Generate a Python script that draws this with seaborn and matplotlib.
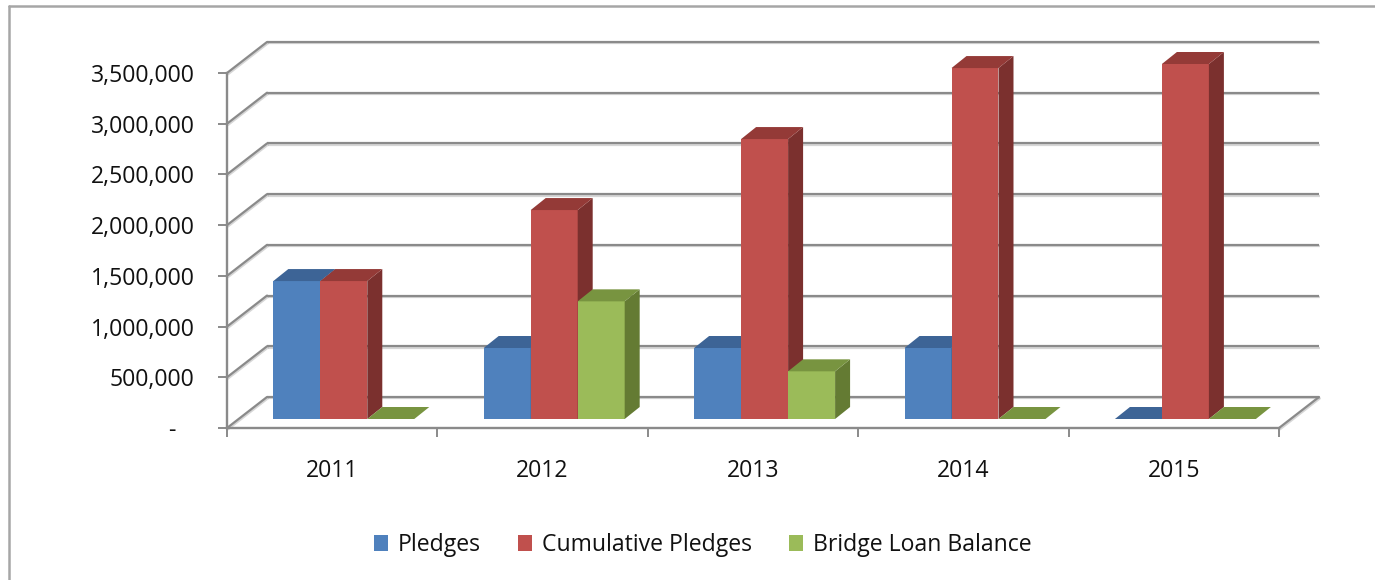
import numpy as np
import pandas as pd
import matplotlib
matplotlib.use("Agg")
import matplotlib.pyplot as plt
import seaborn as sns
from matplotlib.patches import Polygon, Patch
from matplotlib.lines import Line2D
from matplotlib.colors import to_hex
import matplotlib.patheffects as pe

# ---------------- data ----------------
years = ["2011", "2012", "2013", "2014", "2015"]
series = ["Pledges", "Cumulative Pledges", "Bridge Loan Balance"]
pledges = [1360000, 700000, 700000, 700000, 0]
cumulative = [1360000, 2060000, 2760000, 3460000, 3500000]
bridge = [0, 1160000, 470000, 0, 0]
y_ticks = [0, 500000, 1000000, 1500000, 2000000, 2500000, 3000000, 3500000]
y_tick_labels = ["-   ", "500,000", "1,000,000", "1,500,000", "2,000,000",
                 "2,500,000", "3,000,000", "3,500,000"]

colors_front = ["#4F81BD", "#C0504D", "#9BBB59"]
colors_top = ["#3D6496", "#943A37", "#789440"]
colors_side = ["#385D8A", "#7B302E", "#647B33"]
grid_color = "#8A8A8A"
text_color = "#111111"

df = pd.DataFrame({
    "Year": years * 3,
    "Series": [s for s in series for _ in years],
    "Value": pledges + cumulative + bridge,
})

sns.set_style("white")
plt.rcParams["font.family"] = ["Open Sans", "DejaVu Sans"]
FS = 16.6

W, H = 1375, 580
fig = plt.figure(figsize=(W / 100, H / 100), dpi=100)

# frame geometry (pixels)
L, R, B, T = 227, 1279, 428, 73
wall_dx, wall_dy = 40.0, 31.0      # depth of whole floor
bar_off = (11.6, 9.0)              # front face plane of the bars
bar_dx, bar_dy = 15.0, 12.0        # bar depth

ymax = 3500000
ax = fig.add_axes([L / W, 1 - B / H, (R - L) / W, (B - T) / H])
axb = fig.add_axes([(L + bar_off[0]) / W, 1 - (B - bar_off[1]) / H,
                    (R - L) / W, (B - T) / H])

px_per_cat = (R - L) / len(years)
px_per_val = (B - T) / ymax

# ---------------- frame / walls ----------------
ax.set_xlim(-0.5, len(years) - 0.5)
ax.set_ylim(0, ymax)
ax.set_facecolor("none")
DX = wall_dx / px_per_cat
DY = wall_dy / px_per_val
shadow = [pe.SimpleLineShadow(offset=(0.6, -1.0), shadow_color="#9a9a9a", alpha=0.4),
          pe.Normal()]
x0, x1 = -0.5, len(years) - 0.5
for lvl in y_ticks:
    ax.plot([x0 + DX, x1 + DX], [lvl + DY, lvl + DY], color=grid_color, lw=1.6,
            clip_on=False, zorder=1, path_effects=shadow, solid_capstyle="butt")
    ax.plot([x0, x0 + DX], [lvl, lvl + DY], color=grid_color, lw=1.6,
            clip_on=False, zorder=1, path_effects=shadow)
ax.plot([x1, x1 + DX], [0, DY], color=grid_color, lw=1.6, clip_on=False,
        zorder=1, path_effects=shadow)

for side in ["top", "right"]:
    ax.spines[side].set_visible(False)
for side in ["left", "bottom"]:
    ax.spines[side].set_color(grid_color)
    ax.spines[side].set_linewidth(1.7)

ax.set_yticks(y_ticks, y_tick_labels)
ax.set_xticks(range(len(years)), years)
ax.set_xticks(np.arange(-0.5, len(years), 1.0), minor=True)
ax.tick_params(axis="y", which="major", direction="out", length=6.5, width=1.4,
               color=grid_color, pad=17, labelsize=FS, labelcolor=text_color, left=True)
ax.tick_params(axis="x", which="major", length=0, pad=22, labelsize=FS,
               labelcolor=text_color)
ax.tick_params(axis="x", which="minor", direction="out", length=6.5, width=1.4,
               color=grid_color, bottom=True)
ax.set_xlabel("")
ax.set_ylabel("")

# ---------------- bars ----------------
sns.barplot(data=df, x="Year", y="Value", hue="Series", order=years,
            hue_order=series, palette=colors_front, saturation=1, width=0.67,
            gap=0, errorbar=None, legend=False, ax=axb, edgecolor="none",
            linewidth=0)
axb.set_xlim(-0.5, len(years) - 0.5)
axb.set_ylim(0, ymax)
axb.axis("off")
axb.patch.set_alpha(0)

ddx = bar_dx / px_per_cat
ddy = bar_dy / px_per_val
front_hex = [c.lower() for c in colors_front]
for p in list(axb.patches):
    j = front_hex.index(to_hex(p.get_facecolor()).lower())
    z = 3 + j
    bx0 = p.get_x()
    bx1 = bx0 + p.get_width()
    h = p.get_height()
    p.set_zorder(z)
    side = Polygon([(bx1, 0), (bx1 + ddx, ddy), (bx1 + ddx, h + ddy), (bx1, h)],
                   closed=True, facecolor=colors_side[j], edgecolor="none",
                   zorder=z, clip_on=False)
    top = Polygon([(bx0, h), (bx1, h), (bx1 + ddx, h + ddy), (bx0 + ddx, h + ddy)],
                  closed=True, facecolor=colors_top[j], edgecolor="none",
                  zorder=z, clip_on=False)
    axb.add_patch(side)
    axb.add_patch(top)
    p.set_clip_on(False)

# ---------------- legend ----------------
handles = [Patch(facecolor=c, edgecolor="none") for c in colors_front]
fig.legend(handles, series, loc="center", bbox_to_anchor=(703 / W, 1 - 545 / H),
           ncol=3, frameon=False, fontsize=FS, handlelength=0.6,
           handleheight=0.7, handletextpad=0.45, columnspacing=1.6,
           labelcolor=text_color)

# ---------------- outer border ----------------
fig.add_artist(Line2D([9 / W, 1.0], [1 - 6 / H, 1 - 6 / H], transform=fig.transFigure,
                      color="#A6A6A6", lw=1.8))
fig.add_artist(Line2D([9 / W, 9 / W], [0.0, 1 - 6 / H], transform=fig.transFigure,
                      color="#A6A6A6", lw=1.8))

fig.savefig("out.png", dpi=100)
